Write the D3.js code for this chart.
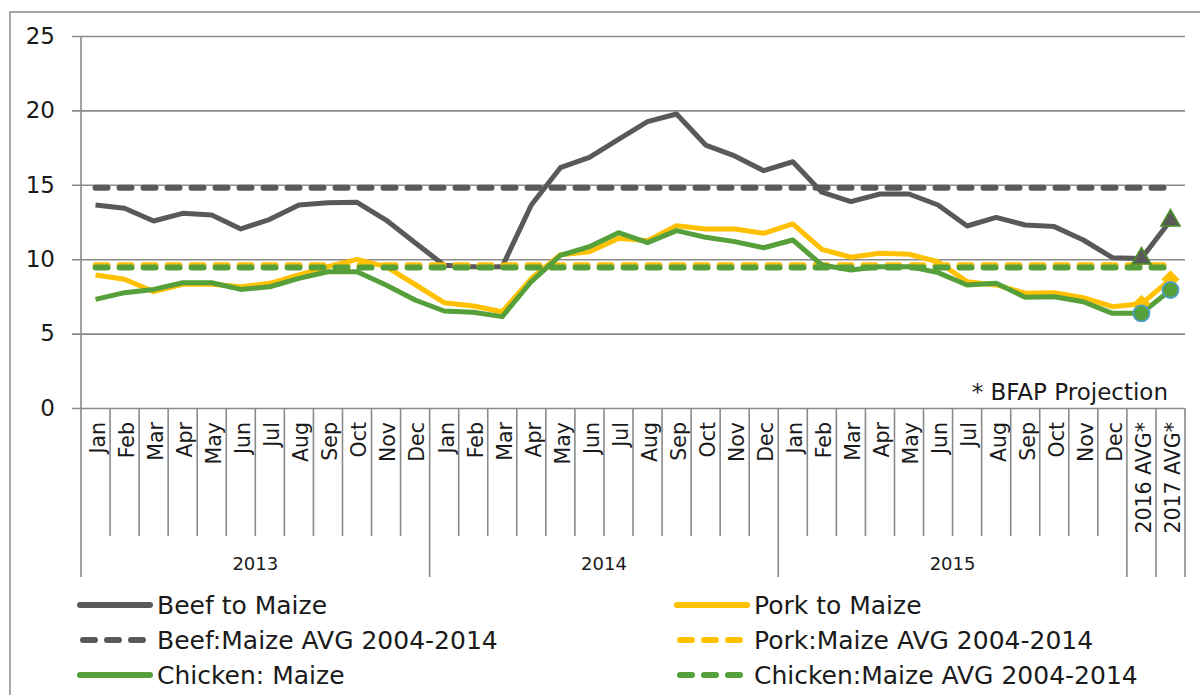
<!DOCTYPE html>
<html><head><meta charset="utf-8">
<script src="https://cdn.jsdelivr.net/npm/d3@7"></script>
<style>
body{margin:0;background:#fff}
text{font-family:"DejaVu Sans",sans-serif;fill:#1a1a1a}
</style>
</head><body><svg id="c" width="1200" height="695"></svg>
<script>
// ---- data ----
const months = ["Jan","Feb","Mar","Apr","May","Jun","Jul","Aug","Sep","Oct","Nov","Dec"];
const years = ["2013","2014","2015"];
const projections = ["2016 AVG*","2017 AVG*"];
const categories = [...months, ...months, ...months, ...projections];
const beef = [13.64,13.42,12.57,13.08,12.97,12.03,12.68,13.64,13.8,13.82,12.63,11.1,
              9.6,9.5,9.5,13.64,16.15,16.85,18.06,19.24,19.76,17.67,16.94,15.95,
              16.55,14.5,13.87,14.38,14.38,13.64,12.23,12.81,12.3,12.19,11.29,10.1,
              10.05,12.6];
const pork = [8.94,8.65,7.82,8.31,8.31,8.15,8.38,8.94,9.5,9.99,9.5,8.3,
              7.08,6.85,6.47,8.7,10.3,10.5,11.4,11.24,12.25,12.03,12.03,11.74,
              12.37,10.66,10.13,10.4,10.33,9.83,8.49,8.27,7.71,7.75,7.41,6.81,
              7.0,8.65];
const chicken = [7.3,7.75,7.97,8.42,8.42,7.97,8.15,8.71,9.16,9.16,8.27,7.26,
                 6.52,6.43,6.14,8.5,10.25,10.84,11.78,11.11,11.92,11.47,11.18,10.77,
                 11.29,9.61,9.27,9.5,9.5,9.1,8.27,8.38,7.44,7.48,7.14,6.36,
                 6.36,7.93];
const beefAvg = 14.8, porkAvg = 9.6, chickenAvg = 9.45;
const yTicks = [0,5,10,15,20,25];
const projectionNote = "* BFAP Projection";
const legendItems = [
  {name:"Beef to Maize", color:"#595959", dash:false},
  {name:"Pork to Maize", color:"#FFC000", dash:false},
  {name:"Beef:Maize AVG 2004-2014", color:"#595959", dash:true},
  {name:"Pork:Maize AVG 2004-2014", color:"#FFC000", dash:true},
  {name:"Chicken: Maize", color:"#55A03A", dash:false},
  {name:"Chicken:Maize AVG 2004-2014", color:"#55A03A", dash:true}
];

// ---- layout ----
const svg = d3.select("#c");
const L = 81, R = 1185, T = 36, B = 408;
const gridCol = "#8a8a8a";
const BEEF = "#595959", PORK = "#FFC000", CHICK = "#55A03A";

svg.append("rect").attr("x",10).attr("y",12).attr("width",1230).attr("height",720)
  .attr("fill","none").attr("stroke",gridCol).attr("stroke-width",1.5);

const x = d3.scaleBand().domain(d3.range(categories.length)).range([L,R]).paddingInner(0).paddingOuter(0);
const bw = x.bandwidth();
const cx = i => x(i) + bw/2;
const y = d3.scaleLinear().domain([0,25]).range([B,T]);

// y grid + labels
const yAxis = d3.axisLeft(y).tickValues(yTicks).tickSize(-(R-72)).tickPadding(17).tickFormat(d3.format("d"));
const gy = svg.append("g").attr("transform","translate(72,0)").call(yAxis);
gy.select(".domain").remove();
gy.selectAll(".tick line").attr("stroke",gridCol).attr("stroke-width",1.6);
gy.selectAll(".tick text").style("font-size","23px").attr("fill","#1a1a1a").style("font-family","DejaVu Sans");

// y axis line
svg.append("line").attr("x1",L).attr("x2",L).attr("y1",T).attr("y2",B).attr("stroke",gridCol).attr("stroke-width",1.6);

// x category boundary lines
const boundaries = d3.range(categories.length+1);
const longB = new Set([0,12,24,36,37,38]);
svg.append("g").selectAll("line").data(boundaries).join("line")
  .attr("x1",i => i<categories.length ? x(i) : R)
  .attr("x2",i => i<categories.length ? x(i) : R)
  .attr("y1",B).attr("y2",i => longB.has(i) ? 577 : 536)
  .attr("stroke",gridCol).attr("stroke-width",1.6);

// month labels
svg.append("g").selectAll("text").data(categories).join("text")
  .attr("transform",(d,i)=>`translate(${cx(i)+2},422) rotate(-90)`)
  .attr("text-anchor","end").attr("dy","0.36em")
  .style("font-size","20.5px").text(d=>d);

// year labels
svg.append("g").selectAll("text").data(years).join("text")
  .attr("x",(d,k)=> (x(k*12) + x(k*12+11)+bw)/2).attr("y",570)
  .attr("text-anchor","middle").style("font-size","18px").text(d=>d);

// projection note
svg.append("text").attr("x",1168).attr("y",400).attr("text-anchor","end")
  .style("font-size","23px").text(projectionNote);

// ---- series ----
const line = d3.line().x((d,i)=>cx(i)).y(d=>y(d));
function solid(data,color){
  svg.append("path").datum(data).attr("d",line).attr("fill","none")
    .attr("stroke",color).attr("stroke-width",5).attr("stroke-linejoin","round");
}
function avg(v,color){
  svg.append("line").attr("x1",cx(0)).attr("x2",cx(categories.length-1))
    .attr("y1",y(v)).attr("y2",y(v)).attr("stroke",color).attr("stroke-width",6)
    .attr("stroke-dasharray","12,12").attr("stroke-linecap","round");
}
solid(beef,BEEF);
solid(pork,PORK);
avg(beefAvg,BEEF);
avg(porkAvg,PORK);
solid(chicken,CHICK);
avg(chickenAvg,CHICK);

// projection markers
const projIdx = [36,37];
svg.append("g").selectAll("path").data(projIdx).join("path")
  .attr("transform",i=>`translate(${cx(i)},${y(beef[i])})`)
  .attr("d",d3.symbol(d3.symbolTriangle,150))
  .attr("fill",BEEF).attr("stroke","#4a8a2c").attr("stroke-width",1.8);
svg.append("g").selectAll("path").data(projIdx).join("path")
  .attr("transform",i=>`translate(${cx(i)},${y(pork[i])})`)
  .attr("d","M0,-8.5L8.5,0L0,8.5L-8.5,0Z")
  .attr("fill",PORK).attr("stroke",PORK).attr("stroke-width",1);
svg.append("g").selectAll("circle").data(projIdx).join("circle")
  .attr("cx",i=>cx(i)).attr("cy",i=>y(chicken[i])).attr("r",8)
  .attr("fill",CHICK).attr("stroke","#4a9fc4").attr("stroke-width",1.8);

// ---- legend ----
const colX = [80,677], rowY = [605,640,675];
const lg = svg.append("g").selectAll("g").data(legendItems).join("g")
  .attr("transform",(d,i)=>`translate(${colX[i%2]},${rowY[Math.floor(i/2)]})`);
lg.append("line").attr("x1",0).attr("x2",d=>d.dash?66:70).attr("y1",0).attr("y2",0)
  .attr("stroke",d=>d.color).attr("stroke-width",6).attr("stroke-linecap","round")
  .attr("stroke-dasharray",d=>d.dash?"12,12":null)
  .attr("transform",d=>d.dash?"translate(3,0)":null);
lg.append("text").attr("x",77).attr("dy","0.36em").style("font-size","25px").text(d=>d.name);
</script>
</body></html>
